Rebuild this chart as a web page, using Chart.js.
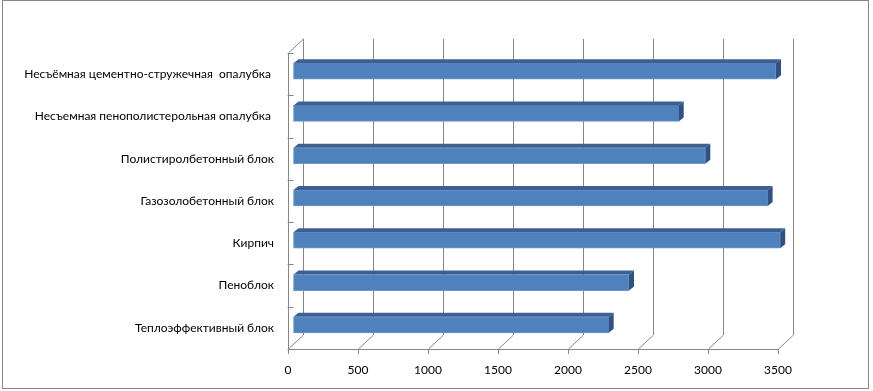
<!DOCTYPE html>
<html>
<head>
    <title>Materials</title>
    <script src="https://cdn.jsdelivr.net/npm/chart.js"></script>
    <style>
        body { margin: 0; background: #fff; }
        #wrap { width: 873px; height: 391px; }
    </style>
</head>
<body>
    <div id="wrap"><canvas id="materialsChart" width="873" height="391"></canvas></div>
    <script>
        const categories = [
            'Несъёмная цементно-стружечная  опалубка ',
            'Несъемная пенополистерольная опалубка ',
            'Полистиролбетонный блок',
            'Газозолобетонный блок',
            'Кирпич',
            'Пеноблок',
            'Теплоэффективный блок'
        ];
        const values = [3450, 2755, 2945, 3390, 3480, 2400, 2255];
        const xTicks = [0, 500, 1000, 1500, 2000, 2500, 3000, 3500];

        const lineColor = '#868686';
        const depth = { x: 15, y: -14 };   // back wall offset
        const barShift = { x: 5, y: -3 };  // bars sit a bit into the scene
        const barDepth = { x: 5, y: -4 };

        const fake3d = {
            id: 'fake3d',
            beforeDatasetsDraw(chart) {
                const ctx = chart.ctx;
                const xs = chart.scales.x;
                const top = chart.chartArea.top, bottom = chart.chartArea.bottom;
                ctx.save();
                ctx.strokeStyle = lineColor;
                ctx.lineWidth = 1;
                xTicks.forEach(v => {
                    const px = Math.round(xs.getPixelForValue(v)) + 0.5;
                    ctx.beginPath();
                    ctx.moveTo(px + depth.x, top + depth.y);
                    ctx.lineTo(px + depth.x, bottom + depth.y);
                    ctx.lineTo(px, bottom);
                    ctx.stroke();
                });
                // top-left edge of the side wall
                const left = Math.round(xs.getPixelForValue(0)) + 0.5;
                ctx.beginPath();
                ctx.moveTo(left, top);
                ctx.lineTo(left + depth.x, top + depth.y);
                ctx.stroke();
                // category ticks on the side wall
                for (let i = 0; i <= categories.length; i++) {
                    const y = Math.round(top + (bottom - top) * i / categories.length) + 0.5;
                    ctx.beginPath();
                    ctx.moveTo(left - 1, y);
                    ctx.lineTo(left + 5, y);
                    ctx.stroke();
                }
                ctx.restore();
                ctx.save();
                ctx.translate(barShift.x, barShift.y);
            },
            afterDatasetsDraw(chart) {
                const ctx = chart.ctx;
                ctx.restore();
                const meta = chart.getDatasetMeta(0);
                ctx.save();
                ctx.translate(barShift.x, barShift.y);
                meta.data.forEach(bar => {
                    const x0 = bar.base, x1 = bar.x;
                    const yt = bar.y - bar.height / 2, yb = bar.y + bar.height / 2;
                    ctx.fillStyle = '#3b6091';
                    ctx.beginPath();
                    ctx.moveTo(x0, yt);
                    ctx.lineTo(x1, yt);
                    ctx.lineTo(x1 + barDepth.x, yt + barDepth.y);
                    ctx.lineTo(x0 + barDepth.x, yt + barDepth.y);
                    ctx.closePath();
                    ctx.fill();
                    ctx.fillStyle = '#2f5283';
                    ctx.beginPath();
                    ctx.moveTo(x1, yt);
                    ctx.lineTo(x1 + barDepth.x, yt + barDepth.y);
                    ctx.lineTo(x1 + barDepth.x, yb + barDepth.y);
                    ctx.lineTo(x1, yb);
                    ctx.closePath();
                    ctx.fill();
                });
                ctx.restore();
            },
            afterDraw(chart) {
                const ctx = chart.ctx;
                ctx.save();
                ctx.strokeStyle = lineColor;
                ctx.strokeRect(2.5, 0.5, 866, 388);
                ctx.restore();
            }
        };

        const ctx = document.getElementById('materialsChart').getContext('2d');
        new Chart(ctx, {
            type: 'bar',
            data: {
                labels: categories,
                datasets: [{
                    label: 'Материалы',
                    data: values,
                    backgroundColor: '#4f81bd',
                    borderColor: '#6d96c8',
                    borderWidth: 1,
                    borderSkipped: false,
                    barThickness: 16
                }]
            },
            options: {
                indexAxis: 'y',
                responsive: false,
                animation: false,
                layout: { padding: { top: 53, right: 95, left: 0, bottom: 0 } },
                plugins: {
                    legend: { display: false },
                    tooltip: { enabled: false }
                },
                scales: {
                    x: {
                        min: 0,
                        max: 3500,
                        afterBuildTicks: scale => { scale.ticks = xTicks.map(v => ({ value: v })); },
                        afterFit: scale => { scale.height = 42; },
                        grid: { drawOnChartArea: false, color: lineColor, tickLength: 5 },
                        border: { color: lineColor },
                        ticks: {
                            color: '#000',
                            padding: 9,
                            maxRotation: 0,
                            callback: v => String(v),
                            font: { family: 'Lato', size: 12 }
                        }
                    },
                    y: {
                        afterFit: scale => { scale.width = 288; },
                        grid: { display: false, drawTicks: false },
                        border: { color: lineColor },
                        ticks: {
                            color: '#000',
                            padding: 14,
                            font: { family: 'Lato', size: 12 }
                        }
                    }
                }
            },
            plugins: [fake3d]
        });
    </script>
</body>
</html>
